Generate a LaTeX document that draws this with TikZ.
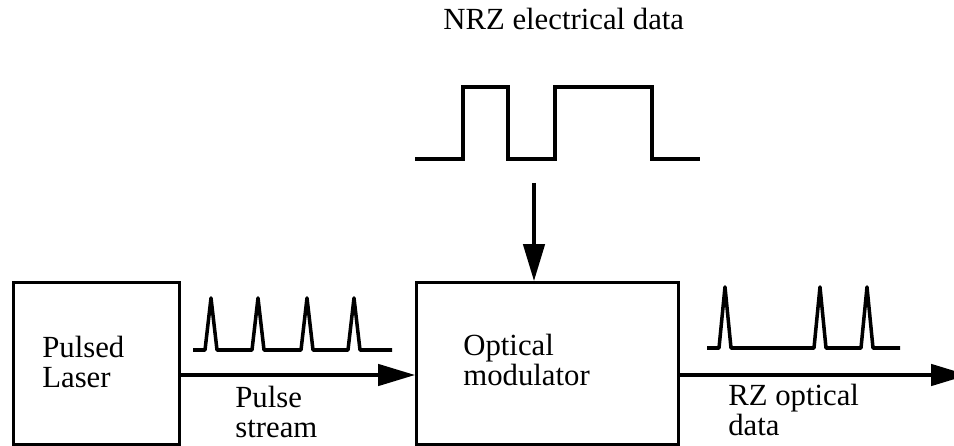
\documentclass[tikz,border=0pt]{standalone}
\usepackage{fontspec}
\setmainfont{Liberation Serif}
\usetikzlibrary{arrows.meta,positioning}

\begin{document}
\begin{tikzpicture}[x=0.02cm, y=-0.02cm,
  font=\fontsize{17.5pt}{17pt}\selectfont,
  blk/.style={draw, line width=1.5pt, inner sep=0pt, anchor=north west},
  lab/.style={align=left, anchor=base west, inner sep=0pt},
  wave/.style={line width=2pt, line join=round},
  link/.style={-{Triangle[length=0.74cm, width=0.43cm]}, line width=1.8pt}]
\clip (0,0) rectangle (954,446);
% blocks
\node[blk, minimum width=3.32cm, minimum height=3.24cm] (laser) at (12,281) {};
\node[blk, minimum width=5.24cm, minimum height=3.24cm] (mod) at (415,281) {};
\node[lab] (pl) at (42,387) {Pulsed\\Laser};
\node[lab] (om) at (463,385) {Optical\\modulator};
% signals
\coordinate (bus) at (0,375);
\coordinate (out) at (968,375);
\coordinate (drv) at (534,183);
\draw[link] (laser.east |- bus) -- (mod.west |- bus);
\draw[link] (mod.east |- bus) -- (out);
\draw[link] (drv) -- (drv |- mod.north);
\node[lab] (ps) at (235,437) {Pulse\\stream};
\node[lab, font=\fontsize{17.5pt}{14.3pt}\selectfont] (rz) at (728,435) {RZ optical\\data};
% NRZ input
\node[lab] (nrz) at (443,30) {NRZ electrical data};
\draw[wave, line join=miter] (415,159) -- (463,159) -- (463,87) -- (508,87) -- (508,159)
  -- (555,159) -- (555,87) -- (652,87) -- (652,159) -- (700,159);
% pulse trains
\draw[wave] (193,350) foreach \x in {211,258,307,354} {-- (\x-6,350) -- (\x,298) -- (\x+6,350)} -- (392,350);
\draw[wave] (707,348) foreach \x in {725,820,867} {-- (\x-6,348) -- (\x,287) -- (\x+6,348)} -- (900,348);
\end{tikzpicture}
\end{document}
